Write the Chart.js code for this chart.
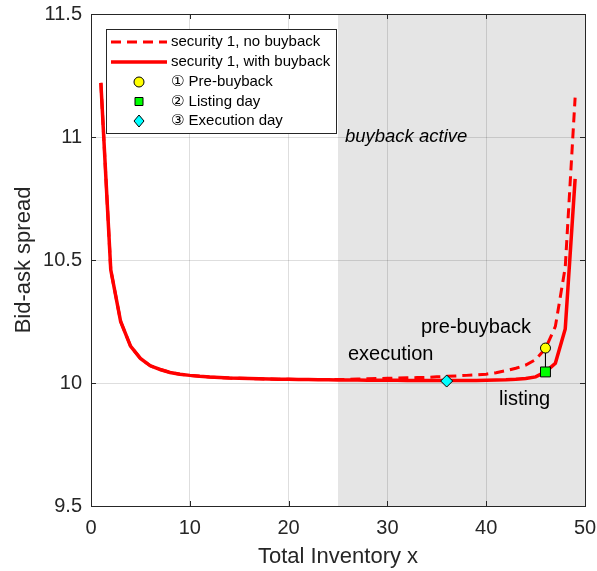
<!DOCTYPE html>
<html>
<head>
<meta charset="utf-8">
<script src="https://cdn.jsdelivr.net/npm/chart.js@4.4.0/dist/chart.umd.min.js"></script>
<style>
  html, body { margin: 0; padding: 0; background: #fff; }
  #wrap { width: 597px; height: 571px; }
</style>
</head>
<body>
<div id="wrap"><canvas id="c"></canvas></div>
<script>
// ---------------- DATA ----------------
const inventory = [1, 2, 3, 4, 5, 6, 7, 8, 9, 10, 11, 12, 13, 14, 15, 16, 17, 18, 19, 20,
    21, 22, 23, 24, 25, 26, 27, 28, 29, 30, 31, 32, 33, 34, 35, 36, 37, 38, 39, 40,
    41, 42, 43, 44, 45, 46, 47, 48, 49];

const spreadWithBuyback = [11.22, 10.46, 10.25, 10.15, 10.10, 10.07, 10.055, 10.043, 10.036, 10.031,
    10.027, 10.024, 10.022, 10.020, 10.019, 10.018, 10.017, 10.016, 10.015, 10.015,
    10.014, 10.014, 10.013, 10.013, 10.012, 10.012, 10.012, 10.011, 10.011, 10.011,
    10.011, 10.010, 10.010, 10.010, 10.010, 10.010, 10.010, 10.010, 10.010, 10.011,
    10.012, 10.013, 10.015, 10.018, 10.025, 10.045, 10.08, 10.22, 10.83];

const spreadNoBuyback = [11.22, 10.46, 10.25, 10.15, 10.10, 10.07, 10.055, 10.043, 10.036, 10.031,
    10.027, 10.024, 10.022, 10.020, 10.019, 10.018, 10.017, 10.016, 10.015, 10.015,
    10.014, 10.014, 10.014, 10.014, 10.014, 10.015, 10.016, 10.017, 10.018, 10.019,
    10.020, 10.021, 10.022, 10.023, 10.025, 10.027, 10.029, 10.031, 10.033, 10.036,
    10.042, 10.050, 10.060, 10.073, 10.095, 10.14, 10.23, 10.47, 11.16];

const xTicks = [0, 10, 20, 30, 40, 50];
const yTicks = [9.5, 10, 10.5, 11, 11.5];
const buybackRange = [25, 50];

// event markers: pre-buyback, listing day, execution day
const eventX = [46, 46, 36];
const eventY = [10.142, 10.045, 10.008];

const seriesNames = ["security 1, no buyback", "security 1, with buyback"];
const eventNames = ["\u2460 Pre-buyback", "\u2461 Listing day", "\u2462 Execution day"];

// ---------------- HELPERS ----------------
const toXY = (xs, ys) => xs.map((x, i) => ({ x: x, y: ys[i] }));
const FONT = "'Liberation Sans', Arial, 'DejaVu Sans', sans-serif";
const AXIS_COLOR = "#262626";

// text notes placed in data coordinates
const notes = [
    { text: "buyback active", x: 25.7, y: 11.0, italic: true, size: 18.5 },
    { text: "pre-buyback", x: 33.4, y: 10.225, size: 20 },
    { text: "execution", x: 26.0, y: 10.115, size: 20 },
    { text: "listing", x: 41.3, y: 9.932, size: 20 }
];

// ---------------- PLUGINS ----------------
const shadePlugin = {
    id: "shade",
    beforeDraw(chart) {
        const { ctx, chartArea: a, scales } = chart;
        const x0 = scales.x.getPixelForValue(buybackRange[0]);
        const x1 = scales.x.getPixelForValue(buybackRange[1]);
        ctx.save();
        ctx.fillStyle = "#e5e5e5";
        ctx.fillRect(x0, a.top, x1 - x0, a.bottom - a.top);
        ctx.restore();
    }
};

function drawMarker(ctx, kind, x, y) {
    ctx.save();
    ctx.lineWidth = 1;
    ctx.strokeStyle = "#000";
    ctx.beginPath();
    if (kind === 0) {
        ctx.fillStyle = "#ffff00";
        ctx.arc(x, y, 5, 0, Math.PI * 2);
    } else if (kind === 1) {
        ctx.fillStyle = "#00ff00";
        ctx.rect(x - 4, y - 4, 8, 8);
    } else {
        ctx.fillStyle = "#00ffff";
        ctx.moveTo(x, y - 6);
        ctx.lineTo(x + 5, y);
        ctx.lineTo(x, y + 6);
        ctx.lineTo(x - 5, y);
        ctx.closePath();
    }
    ctx.fill();
    ctx.stroke();
    ctx.restore();
}

const framePlugin = {
    id: "frame",
    afterDraw(chart) {
        const { ctx, chartArea: a, scales } = chart;
        ctx.save();

        // notes
        ctx.fillStyle = "#000";
        ctx.textBaseline = "middle";
        ctx.textAlign = "left";
        notes.forEach(n => {
            ctx.font = (n.italic ? "italic " : "") + n.size + "px " + FONT;
            ctx.fillText(n.text, scales.x.getPixelForValue(n.x), scales.y.getPixelForValue(n.y));
        });

        // box + inward ticks
        ctx.strokeStyle = AXIS_COLOR;
        ctx.lineWidth = 1;
        ctx.beginPath();
        xTicks.forEach(v => {
            const px = Math.round(scales.x.getPixelForValue(v)) + 0.5;
            ctx.moveTo(px, a.bottom); ctx.lineTo(px, a.bottom - 5);
            ctx.moveTo(px, a.top); ctx.lineTo(px, a.top + 5);
        });
        yTicks.forEach(v => {
            const py = Math.round(scales.y.getPixelForValue(v)) + 0.5;
            ctx.moveTo(a.left, py); ctx.lineTo(a.left + 5, py);
            ctx.moveTo(a.right, py); ctx.lineTo(a.right - 5, py);
        });
        ctx.stroke();
        ctx.strokeRect(Math.round(a.left) + 0.5, Math.round(a.top) + 0.5,
            Math.round(a.right - a.left), Math.round(a.bottom - a.top));

        // legend
        const lx = 106, ly = 29, lw = 230, lh = 104;
        ctx.fillStyle = "#fff";
        ctx.fillRect(lx, ly, lw, lh);
        ctx.strokeStyle = AXIS_COLOR;
        ctx.strokeRect(lx + 0.5, ly + 0.5, lw, lh);

        const rows = [42, 62, 82, 101.5, 121];
        ctx.strokeStyle = "#ff0000";
        ctx.lineWidth = 3;
        ctx.setLineDash([10, 6]);
        ctx.beginPath(); ctx.moveTo(111, rows[0]); ctx.lineTo(167, rows[0]); ctx.stroke();
        ctx.setLineDash([]);
        ctx.lineWidth = 3.5;
        ctx.beginPath(); ctx.moveTo(111, rows[1]); ctx.lineTo(167, rows[1]); ctx.stroke();
        for (let k = 0; k < 3; k++) drawMarker(ctx, k, 139, rows[k + 2]);

        ctx.fillStyle = "#000";
        ctx.font = "15px " + FONT;
        ctx.textBaseline = "middle";
        seriesNames.forEach((t, i) => ctx.fillText(t, 171, rows[i]));
        eventNames.forEach((t, i) => ctx.fillText(t, 171, rows[i + 2]));
        ctx.restore();
    }
};

// ---------------- CHART ----------------
new Chart(document.getElementById("c"), {
    type: "line",
    data: {
        datasets: [
            {
                label: seriesNames[0],
                data: toXY(inventory, spreadNoBuyback),
                borderColor: "#ff0000",
                borderWidth: 3,
                borderDash: [10, 6],
                pointRadius: 0,
                tension: 0,
                order: 3
            },
            {
                label: seriesNames[1],
                data: toXY(inventory, spreadWithBuyback),
                borderColor: "#ff0000",
                borderWidth: 3.5,
                pointRadius: 0,
                tension: 0,
                order: 2
            },
            {
                label: "link",
                data: toXY([eventX[0], eventX[1]], [eventY[0], eventY[1]]),
                borderColor: "#000",
                borderWidth: 1,
                pointRadius: 0,
                order: 1
            },
            {
                label: eventNames[0],
                data: toXY([eventX[0]], [eventY[0]]),
                showLine: false,
                pointStyle: "circle",
                pointRadius: 5,
                pointBackgroundColor: "#ffff00",
                pointBorderColor: "#000",
                pointBorderWidth: 1,
                order: 0
            },
            {
                label: eventNames[1],
                data: toXY([eventX[1]], [eventY[1]]),
                showLine: false,
                pointStyle: "rect",
                pointRadius: 7,
                pointBackgroundColor: "#00ff00",
                pointBorderColor: "#000",
                pointBorderWidth: 1,
                order: 0
            },
            {
                label: eventNames[2],
                data: toXY([eventX[2]], [eventY[2]]),
                showLine: false,
                pointStyle: "rectRot",
                pointRadius: 6,
                pointBackgroundColor: "#00ffff",
                pointBorderColor: "#000",
                pointBorderWidth: 1,
                order: 0
            }
        ]
    },
    options: {
        responsive: true,
        maintainAspectRatio: false,
        animation: false,
        layout: { padding: { top: 14, right: 12, left: 0, bottom: 0 } },
        plugins: {
            legend: { display: false },
            tooltip: { enabled: false }
        },
        scales: {
            x: {
                type: "linear",
                min: 0,
                max: 50,
                afterBuildTicks: s => { s.ticks = xTicks.map(v => ({ value: v })); },
                afterFit: s => { s.height = 65; s.paddingLeft = 0; s.paddingRight = 0; },
                ticks: {
                    color: AXIS_COLOR,
                    font: { family: FONT, size: 20 },
                    padding: 10,
                    maxRotation: 0,
                    callback: v => String(v)
                },
                grid: { color: "rgba(0,0,0,0.13)", drawTicks: false },
                border: { display: false },
                title: {
                    display: true,
                    text: "Total Inventory x",
                    color: AXIS_COLOR,
                    font: { family: FONT, size: 22 },
                    padding: { top: 0, bottom: 1 }
                }
            },
            y: {
                type: "linear",
                min: 9.5,
                max: 11.5,
                afterBuildTicks: s => { s.ticks = yTicks.map(v => ({ value: v })); },
                afterFit: s => { s.width = 91; s.paddingTop = 0; s.paddingBottom = 0; },
                ticks: {
                    color: AXIS_COLOR,
                    font: { family: FONT, size: 20 },
                    padding: 9,
                    callback: v => String(v)
                },
                grid: { color: "rgba(0,0,0,0.13)", drawTicks: false },
                border: { display: false },
                title: {
                    display: true,
                    text: "Bid-ask spread",
                    color: AXIS_COLOR,
                    font: { family: FONT, size: 22 },
                    padding: { top: 11, bottom: 0 }
                }
            }
        }
    },
    plugins: [shadePlugin, framePlugin]
});
</script>
</body>
</html>
